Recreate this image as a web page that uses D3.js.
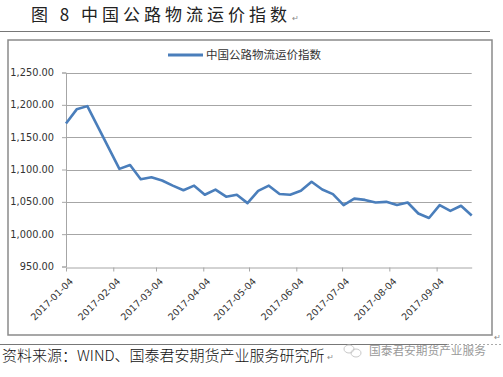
<!DOCTYPE html>
<html>
<head>
<meta charset="utf-8">
<script src="https://cdn.jsdelivr.net/npm/d3@7"></script>
<style>
  html, body { margin: 0; padding: 0; background: #fff; }
  svg { display: block; }
</style>
</head>
<body>
<div id="root"></div>
<script>
// weekly index values (Spring Festival weeks missing)
var dates = ["2017-01-04", "2017-01-11", "2017-01-18", "2017-02-08", "2017-02-15", "2017-02-22",
    "2017-03-01", "2017-03-08", "2017-03-15", "2017-03-22", "2017-03-29", "2017-04-05",
    "2017-04-12", "2017-04-19", "2017-04-26", "2017-05-03", "2017-05-10", "2017-05-17",
    "2017-05-24", "2017-05-31", "2017-06-07", "2017-06-14", "2017-06-21", "2017-06-28",
    "2017-07-05", "2017-07-12", "2017-07-19", "2017-07-26", "2017-08-02", "2017-08-09",
    "2017-08-16", "2017-08-23", "2017-08-30", "2017-09-06", "2017-09-13", "2017-09-20",
    "2017-09-27"];
var values = [1171, 1193, 1198, 1101, 1107, 1085,
    1088, 1083, 1075, 1068, 1075, 1061,
    1069, 1058, 1061, 1048, 1067, 1075,
    1062, 1061, 1067, 1081, 1069, 1062,
    1045, 1055, 1053, 1049, 1050, 1045,
    1049, 1032, 1025, 1045, 1036, 1044,
    1029];
var xTickLabels = ["2017-01-04", "2017-02-04", "2017-03-04", "2017-04-04", "2017-05-04",
    "2017-06-04", "2017-07-04", "2017-08-04", "2017-09-04"];
var yTicks = [950, 1000, 1050, 1100, 1150, 1200, 1250];
var seriesName = "中国公路物流运价指数";
var titleText = "图 8  中国公路物流运价指数";
var sourceText = "资料来源：WIND、国泰君安期货产业服务研究所";
var watermarkText = "国泰君安期货产业服务";

var parse = d3.utcParse("%Y-%m-%d");
var data = dates.map(function (d, i) {
    return { date: parse(d), value: values[i] };
});

var svg = d3.select("#root").append("svg")
    .attr("width", 503)
    .attr("height", 377);

// page title
svg.append("text")
    .attr("x", 31)
    .attr("y", 21)
    .attr("font-family", "'Noto Sans CJK SC', sans-serif")
    .attr("font-size", 17)
    .attr("letter-spacing", 4)
    .attr("fill", "#222")
    .text(titleText);
svg.append("text")
    .attr("x", 292)
    .attr("y", 21)
    .attr("font-size", 8)
    .attr("fill", "#888")
    .text("↵");

svg.append("line")
    .attr("x1", 0).attr("x2", 490)
    .attr("y1", 31.5).attr("y2", 31.5)
    .attr("stroke", "#777");

// chart frame
svg.append("rect")
    .attr("x", 8).attr("y", 40)
    .attr("width", 484).attr("height", 295)
    .attr("fill", "#fff")
    .attr("stroke", "#8a8a8a")
    .attr("stroke-width", 1.5);

var plot = { left: 66, right: 471.7, top: 72.5, bottom: 266.5 };

var x = d3.scaleUtc()
    .domain(d3.extent(data, function (d) { return d.date; }))
    .range([plot.left, plot.right]);

var y = d3.scaleLinear()
    .domain([950, 1250])
    .range([plot.bottom, plot.top]);

var fmt = d3.format(",.2f");

// gridlines
svg.append("g")
    .selectAll("line")
    .data(yTicks.slice(1))
    .enter().append("line")
    .attr("x1", plot.left).attr("x2", plot.right)
    .attr("y1", function (d) { return Math.round(y(d)) + 0.5; })
    .attr("y2", function (d) { return Math.round(y(d)) + 0.5; })
    .attr("stroke", "#a6a6a6");

// y axis
var yAxis = svg.append("g")
    .attr("transform", "translate(" + plot.left + ",0)")
    .call(d3.axisLeft(y).tickValues(yTicks).tickFormat(fmt).tickSize(4).tickPadding(8));
yAxis.select(".domain").attr("stroke", "#a6a6a6");
yAxis.selectAll(".tick line").attr("stroke", "#a6a6a6");
yAxis.selectAll("text")
    .attr("font-family", "'DejaVu Sans', sans-serif")
    .attr("font-size", 9.8)
    .attr("fill", "#333");

// x axis
var xAxis = svg.append("g")
    .attr("transform", "translate(0," + (Math.round(plot.bottom) + 0.5) + ")")
    .call(d3.axisBottom(x).tickValues(xTickLabels.map(parse)).tickFormat(d3.utcFormat("%Y-%m-%d")).tickSize(4).tickSizeOuter(0));
xAxis.select(".domain").attr("stroke", "#a6a6a6");
xAxis.selectAll(".tick line").attr("stroke", "#a6a6a6");
xAxis.selectAll("text")
    .attr("font-family", "'DejaVu Sans', sans-serif")
    .attr("font-size", 9.5)
    .attr("fill", "#333")
    .attr("text-anchor", "end")
    .attr("y", 0)
    .attr("dy", "0.35em")
    .attr("transform", "translate(5,12) rotate(-45)");

// the series
var line = d3.line()
    .x(function (d) { return x(d.date); })
    .y(function (d) { return y(d.value); });

svg.append("path")
    .datum(data)
    .attr("fill", "none")
    .attr("stroke", "#4a7ebb")
    .attr("stroke-width", 2.6)
    .attr("stroke-linejoin", "round")
    .attr("d", line);

// legend
svg.append("line")
    .attr("x1", 168).attr("x2", 203)
    .attr("y1", 55).attr("y2", 55)
    .attr("stroke", "#4a7ebb")
    .attr("stroke-width", 3);
svg.append("text")
    .attr("x", 206)
    .attr("y", 59)
    .attr("font-family", "'Noto Sans CJK SC', sans-serif")
    .attr("font-size", 11.5)
    .attr("fill", "#333")
    .text(seriesName);

svg.append("text")
    .attr("x", 494)
    .attr("y", 340)
    .attr("font-size", 8)
    .attr("fill", "#888")
    .text("↵");

// footer
svg.append("line")
    .attr("x1", 0).attr("x2", 447)
    .attr("y1", 344.5).attr("y2", 344.5)
    .attr("stroke", "#777");
svg.append("line")
    .attr("x1", 447).attr("x2", 503)
    .attr("y1", 344.5).attr("y2", 344.5)
    .attr("stroke", "#aaa")
    .attr("stroke-dasharray", "2,2");

svg.append("text")
    .attr("x", 2)
    .attr("y", 361)
    .attr("font-family", "'Noto Sans CJK SC', serif")
    .attr("font-size", 15)
    .attr("font-weight", 300)
    .attr("fill", "#111")
    .text(sourceText);
svg.append("text")
    .attr("x", 327)
    .attr("y", 360)
    .attr("font-size", 8)
    .attr("fill", "#888")
    .text("↵");

// watermark
var wm = svg.append("g").attr("fill", "none").attr("stroke", "#c8c8c8").attr("stroke-width", 1);
wm.append("ellipse").attr("cx", 349).attr("cy", 349).attr("rx", 5).attr("ry", 4);
wm.append("ellipse").attr("cx", 356).attr("cy", 353).attr("rx", 5).attr("ry", 4);
svg.append("text")
    .attr("x", 369)
    .attr("y", 355)
    .attr("font-family", "'Noto Sans CJK SC', sans-serif")
    .attr("font-size", 11.7)
    .attr("fill", "#9a9a9a")
    .text(watermarkText);
</script>
</body>
</html>
